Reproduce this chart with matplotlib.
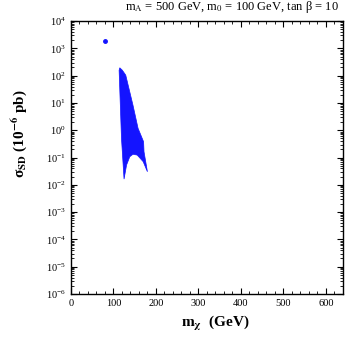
import matplotlib
matplotlib.use("Agg")
import matplotlib.pyplot as plt
from matplotlib.ticker import MultipleLocator, LogLocator, NullFormatter
import numpy as np

plt.rcParams['font.family'] = 'Liberation Serif'
plt.rcParams['mathtext.fontset'] = 'stix'

# isolated point
pt_x = [80]
pt_y = [1.86e3]

# allowed region outline (m_chi in GeV, log10 sigma_SD)
reg_x = [113.4, 115, 121, 129, 146, 158, 171, 172, 180,
         170, 156, 146, 138.5, 131, 125, 119]
reg_logy = [2.2, 2.29, 2.2, 2.02, 0.92, 0.07, -0.42, -0.79, -1.52,
            -1.15, -0.91, -0.88, -0.97, -1.27, -1.79, -0.30]
reg_y = [10 ** v for v in reg_logy]

blue = '#1414ff'

fig = plt.figure(figsize=(3.46, 3.41), dpi=100)
ax = fig.add_axes([0.205, 0.138, 0.786, 0.800])

ax.fill(reg_x, reg_y, color=blue, lw=0.5, ec=blue)
ax.plot(pt_x, pt_y, 'o', color=blue, ms=2.5)

ax.set_yscale('log')
ax.set_xlim(0, 640)
ax.set_ylim(1e-6, 1e4)
ax.set_xticks(range(0, 601, 100))
ax.xaxis.set_minor_locator(MultipleLocator(20))
ax.yaxis.set_major_locator(LogLocator(base=10, numticks=20))
ax.yaxis.set_minor_locator(LogLocator(base=10, subs=np.arange(2, 10), numticks=20))
ax.yaxis.set_minor_formatter(NullFormatter())
ax.tick_params(which='both', direction='in', top=True, right=True, labelsize=7.5)
ax.tick_params(which='major', length=4, width=0.8)
ax.tick_params(which='minor', length=2, width=0.6)
for s in ax.spines.values():
    s.set_linewidth(1.0)

ax.set_xlabel(r'm$_{\mathbf{\chi}}$  (GeV)', fontsize=11, fontweight='bold')
ax.xaxis.set_label_coords(0.53, -0.075)
ax.set_ylabel(r'σ$_{\mathbf{SD}}$ (10$^{\mathbf{-6}}$ pb)', fontsize=11, fontweight='bold')
ax.yaxis.set_label_coords(-0.155, 0.586)
ax.text(0.985, 1.022, r'm$_{\rm A}$ = 500 GeV, m$_{\rm 0}$ = 100 GeV, tan β = 10',
        transform=ax.transAxes, ha='right', va='bottom', fontsize=9)

fig.savefig('out.png', dpi=100)
